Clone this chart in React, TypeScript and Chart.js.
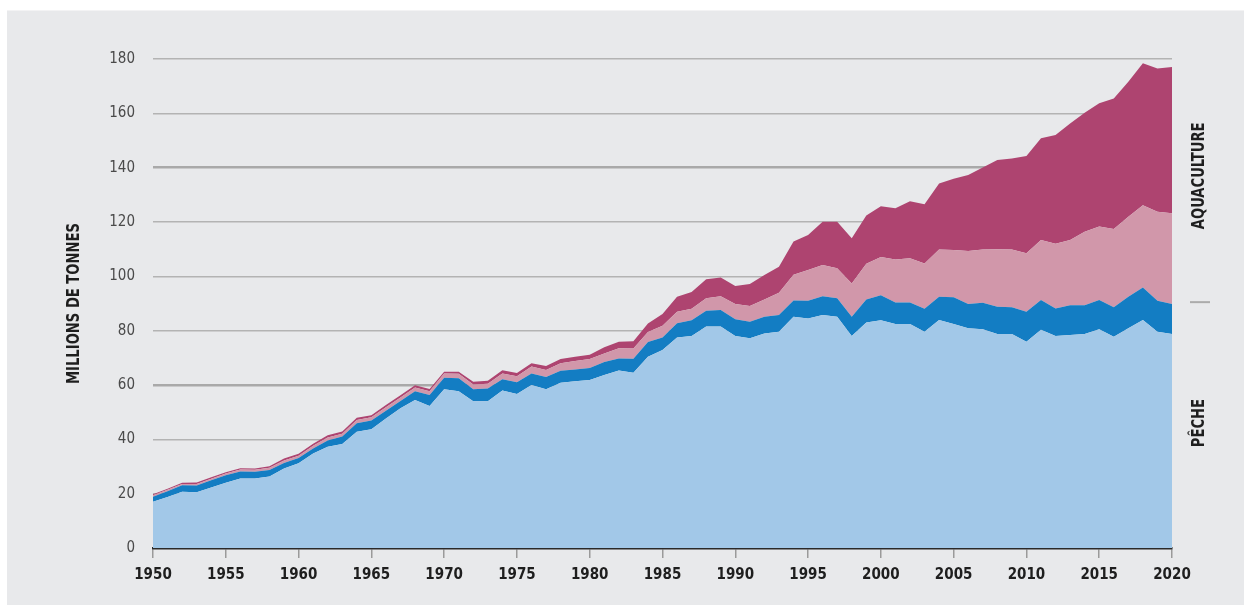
import React, { useEffect, useRef } from "react";
import { Chart, registerables } from "chart.js";

Chart.register(...registerables);

const years = [
  1950, 1951, 1952, 1953, 1954, 1955, 1956, 1957, 1958, 1959,
  1960, 1961, 1962, 1963, 1964, 1965, 1966, 1967, 1968, 1969,
  1970, 1971, 1972, 1973, 1974, 1975, 1976, 1977, 1978, 1979,
  1980, 1981, 1982, 1983, 1984, 1985, 1986, 1987, 1988, 1989,
  1990, 1991, 1992, 1993, 1994, 1995, 1996, 1997, 1998, 1999,
  2000, 2001, 2002, 2003, 2004, 2005, 2006, 2007, 2008, 2009,
  2010, 2011, 2012, 2013, 2014, 2015, 2016, 2017, 2018, 2019,
  2020,
];

// Pêche – captures marines (bleu clair)
const marineCapture = [
  17.0, 18.8, 20.7, 20.5, 22.3, 24.0, 25.6, 25.6, 26.3, 29.3,
  31.2, 34.8, 37.3, 38.3, 42.8, 43.7, 47.7, 51.4, 54.5, 52.3,
  58.4, 57.7, 54.0, 54.0, 58.0, 56.7, 60.0, 58.4, 60.8, 61.4,
  61.8, 63.7, 65.3, 64.5, 70.4, 72.9, 77.5, 78.0, 81.5, 81.5,
  78.0, 77.2, 79.0, 79.6, 85.1, 84.5, 85.8, 85.1, 78.0, 83.0,
  83.8, 82.5, 82.5, 79.6, 83.9, 82.5, 80.9, 80.5, 78.8, 78.8,
  75.9, 80.3, 78.0, 78.4, 78.8, 80.5, 77.8, 80.9, 83.9, 79.6,
  78.8,
];

// Pêche – captures continentales (bleu foncé)
const inlandCapture = [
  1.9, 2.1, 2.4, 2.5, 2.6, 2.8, 2.6, 2.5, 2.4, 2.0,
  1.9, 1.8, 2.3, 2.7, 3.1, 3.2, 2.8, 2.7, 3.2, 4.0,
  4.3, 4.8, 4.4, 4.7, 4.1, 4.3, 4.2, 4.5, 4.4, 4.3,
  4.5, 4.8, 4.5, 5.2, 5.4, 4.6, 5.2, 5.8, 5.8, 6.1,
  6.2, 6.1, 6.1, 6.2, 6.0, 6.5, 6.9, 6.8, 7.1, 8.5,
  9.2, 7.9, 7.9, 8.5, 8.6, 9.8, 8.9, 9.8, 10.0, 9.8,
  11.1, 11.0, 10.2, 11.0, 10.6, 10.8, 10.8, 11.6, 12.0, 11.4,
  11.0,
];

// Aquaculture marine (rose clair)
const marineAqua = [
  0.5, 0.5, 0.5, 0.6, 0.6, 0.6, 0.7, 0.7, 0.8, 0.9,
  0.9, 1.0, 1.1, 1.1, 1.2, 1.2, 1.3, 1.3, 1.4, 1.4,
  1.5, 1.6, 1.8, 1.8, 2.1, 2.2, 2.6, 2.6, 2.8, 3.1,
  3.3, 3.1, 3.7, 3.7, 3.7, 4.3, 4.3, 4.3, 4.6, 5.1,
  5.6, 5.8, 6.4, 8.2, 9.5, 11.3, 11.5, 11.1, 12.3, 13.1,
  14.1, 15.8, 16.3, 16.6, 17.4, 17.4, 19.5, 19.6, 21.2, 21.3,
  21.5, 22.1, 23.8, 24.0, 27.0, 27.0, 28.8, 29.4, 30.3, 32.8,
  33.4,
];

// Aquaculture continentale (magenta)
const inlandAqua = [
  0.4, 0.4, 0.4, 0.5, 0.5, 0.5, 0.5, 0.5, 0.6, 0.7,
  0.7, 0.8, 0.8, 0.8, 0.8, 0.8, 0.8, 0.8, 0.8, 0.8,
  0.7, 0.8, 1.0, 1.1, 1.2, 1.2, 1.2, 1.5, 1.6, 1.6,
  1.5, 2.3, 2.4, 2.7, 3.1, 4.3, 5.5, 6.1, 7.0, 6.9,
  6.6, 8.1, 9.0, 9.5, 12.2, 12.9, 15.9, 17.1, 16.6, 17.8,
  18.7, 18.9, 20.9, 21.8, 24.3, 26.2, 28.0, 30.2, 32.8, 33.5,
  35.8, 37.4, 40.0, 42.9, 43.8, 45.4, 48.1, 49.7, 52.2, 52.7,
  53.9,
];

const yAxisTitle = "MILLIONS DE TONNES";
const sideLabelTop = "AQUACULTURE";
const sideLabelBottom = "PÊCHE";

const FONT = "'Liberation Sans Narrow', 'DejaVu Sans Condensed', sans-serif";

const sideTextPlugin = {
  id: "sideText",
  afterDraw(chart: any) {
    const { ctx, chartArea } = chart;
    const yScale = chart.scales.y;
    ctx.save();
    ctx.fillStyle = "#1e1e1e";
    ctx.font = `bold 17px ${FONT}`;
    ctx.textAlign = "center";
    ctx.textBaseline = "middle";
    const drawRot = (text: string, x: number, y: number) => {
      ctx.save();
      ctx.translate(x, y);
      ctx.rotate(-Math.PI / 2);
      ctx.scale(0.86, 1);
      ctx.fillText(text, 0, 0);
      ctx.restore();
    };
    const midY = (chartArea.top + chartArea.bottom) / 2;
    drawRot(yAxisTitle, 75, midY);
    const sideX = chartArea.right + 28;
    drawRot(sideLabelTop, sideX, yScale.getPixelForValue(137));
    drawRot(sideLabelBottom, sideX, yScale.getPixelForValue(46));
    const dashY = yScale.getPixelForValue(90.5);
    ctx.strokeStyle = "#ababab";
    ctx.lineWidth = 2;
    ctx.beginPath();
    ctx.moveTo(sideX - 10, dashY);
    ctx.lineTo(sideX + 10, dashY);
    ctx.stroke();
    ctx.restore();
  },
};

export default function App() {
  const canvasRef = useRef<HTMLCanvasElement | null>(null);

  useEffect(() => {
    if (!canvasRef.current) return;
    const mk = (arr: number[]) => years.map((yr, i) => ({ x: yr, y: arr[i] }));
    const base = {
      pointRadius: 0,
      pointHoverRadius: 0,
      borderWidth: 0,
      tension: 0,
    };
    const chart = new Chart(canvasRef.current, {
      type: "line",
      data: {
        datasets: [
          { ...base, label: "Pêche marine", data: mk(marineCapture), backgroundColor: "#a2c8e8", borderColor: "#a2c8e8", fill: "origin" },
          { ...base, label: "Pêche continentale", data: mk(inlandCapture), backgroundColor: "#137dc3", borderColor: "#137dc3", fill: "-1" },
          { ...base, label: "Aquaculture marine", data: mk(marineAqua), backgroundColor: "#d197aa", borderColor: "#d197aa", fill: "-1" },
          { ...base, label: "Aquaculture continentale", data: mk(inlandAqua), backgroundColor: "#ae4470", borderColor: "#ae4470", fill: "-1" },
        ],
      },
      options: {
        responsive: false,
        animation: false,
        events: [],
        layout: { padding: { top: 59, right: 72, bottom: 0, left: 0 } },
        plugins: {
          legend: { display: false },
          tooltip: { enabled: false },
          title: { display: false },
        },
        scales: {
          x: {
            type: "linear",
            min: 1950,
            max: 2020,
            afterFit: (s: any) => { s.height = 61; },
            ticks: {
              stepSize: 5,
              padding: 8,
              color: "#1e1e1e",
              font: { family: FONT, size: 15, weight: "bold" },
              callback: (v: any) => String(v),
              maxRotation: 0,
            },
            grid: {
              drawOnChartArea: false,
              drawTicks: true,
              tickLength: 10,
              color: "#9a9a9a",
              lineWidth: 1.5,
            },
            border: { display: true, color: "#2a2a2a", width: 2.5 },
          },
          y: {
            stacked: true,
            min: 0,
            max: 180,
            afterFit: (s: any) => { s.width = 153; },
            ticks: {
              stepSize: 20,
              padding: 18,
              color: "#4a4a4a",
              font: { family: FONT, size: 15 },
            },
            grid: {
              drawTicks: false,
              color: (c: any) => (c.tick && c.tick.value === 0 ? "rgba(0,0,0,0)" : (c.tick && (c.tick.value === 60 || c.tick.value === 140) ? "#a9a9a9" : "#b3b3b3")),
              lineWidth: (c: any) => (c.tick && (c.tick.value === 60 || c.tick.value === 140) ? 2.5 : 1.5),
            },
            border: { display: false },
          },
        },
      },
      plugins: [sideTextPlugin],
    });
    return () => chart.destroy();
  }, []);

  return (
    <div style={{ position: "absolute", left: 0, top: 0, width: 1244, height: 609, background: "#ffffff", overflow: "hidden" }}>
      <div style={{ position: "absolute", left: 7, top: 10, width: 1237, height: 594, background: "#e8e9eb", borderTop: "1px solid #f3f3f4" }} />
      <canvas ref={canvasRef} width={1244} height={609} style={{ position: "absolute", left: 0, top: 0, width: 1244, height: 609 }} />
    </div>
  );
}
